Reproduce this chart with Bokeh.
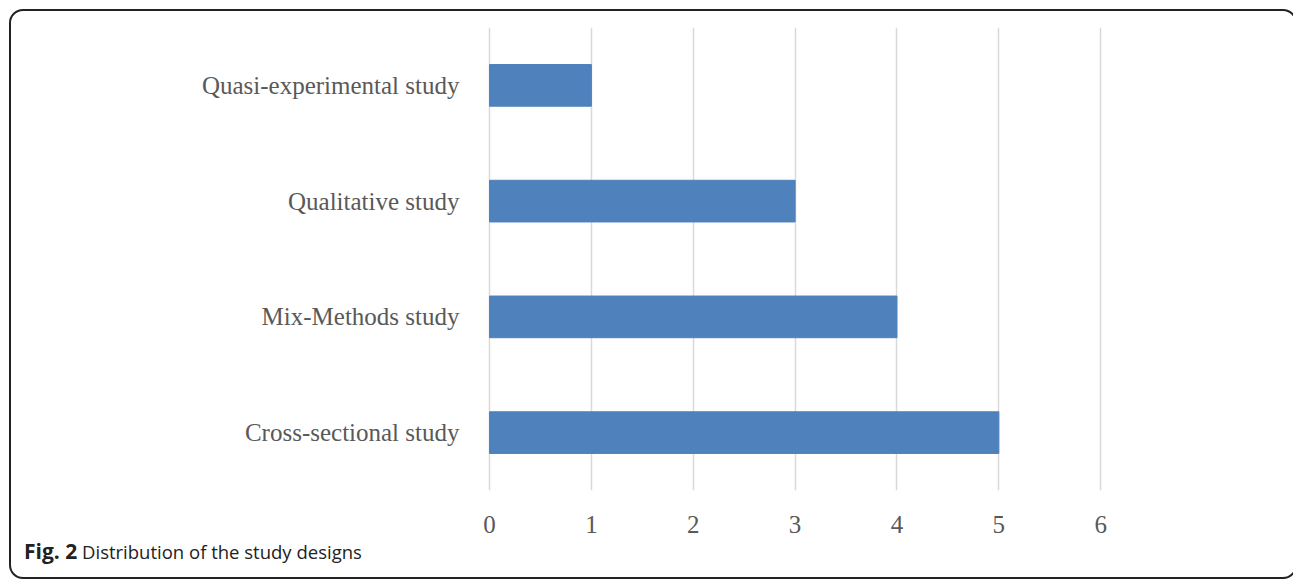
from bokeh.plotting import figure
from bokeh.models import FixedTicker, InlineStyleSheet, Div
from bokeh.layouts import column
from bokeh.embed import file_html
from bokeh.resources import INLINE

categories = ["Cross-sectional study", "Mix-Methods study", "Qualitative study", "Quasi-experimental study"]
counts = [5, 4, 3, 1]
ticks = [0, 1, 2, 3, 4, 5, 6]
caption_bold = "Fig. 2"
caption_text = "Distribution of the study designs"

p = figure(width=1293, height=540, y_range=categories, x_range=(-0.02, 7.5),
           output_backend="svg", toolbar_location=None,
           min_border_left=487, min_border_right=40, min_border_top=27, min_border_bottom=50)
p.outline_line_color = None
p.hbar(y=categories, right=counts, left=0, height=0.36, color="#4f81bd")

p.xaxis.ticker = FixedTicker(ticks=ticks)
p.xgrid.ticker = FixedTicker(ticks=ticks)
p.xgrid.grid_line_color = "#d9d9d9"
p.xgrid.grid_line_width = 1.5
p.ygrid.grid_line_color = None
for ax in (p.xaxis, p.yaxis):
    ax.axis_line_color = None
    ax.major_tick_line_color = None
    ax.minor_tick_line_color = None
    ax.major_label_text_font = "Liberation Serif"
    ax.major_label_text_font_size = "25px"
    ax.major_label_text_color = "#595959"
p.xaxis.major_label_standoff = 19
p.yaxis.major_label_standoff = 22

cap = Div(text=f"<b style='font-size:21px'>{caption_bold}</b>&nbsp;{caption_text}",
          width=1293, height=41,
          styles={"font-family": "'Open Sans'", "font-size": "18.5px", "color": "#222222",
                  "padding-left": "19px", "margin-top": "-1px", "line-height": "24px"})

layout = column(p, cap, width=1293, height=581, spacing=0)
layout.stylesheets = [InlineStyleSheet(css="""
:host { position: relative; }
:host::after {
  content: ''; position: absolute; left: 9px; top: 9px; right: -4px; bottom: 2px;
  border: 2px solid #222222; border-radius: 14px; pointer-events: none;
}
""")]

open("out.html", "w").write(file_html(layout, INLINE))
